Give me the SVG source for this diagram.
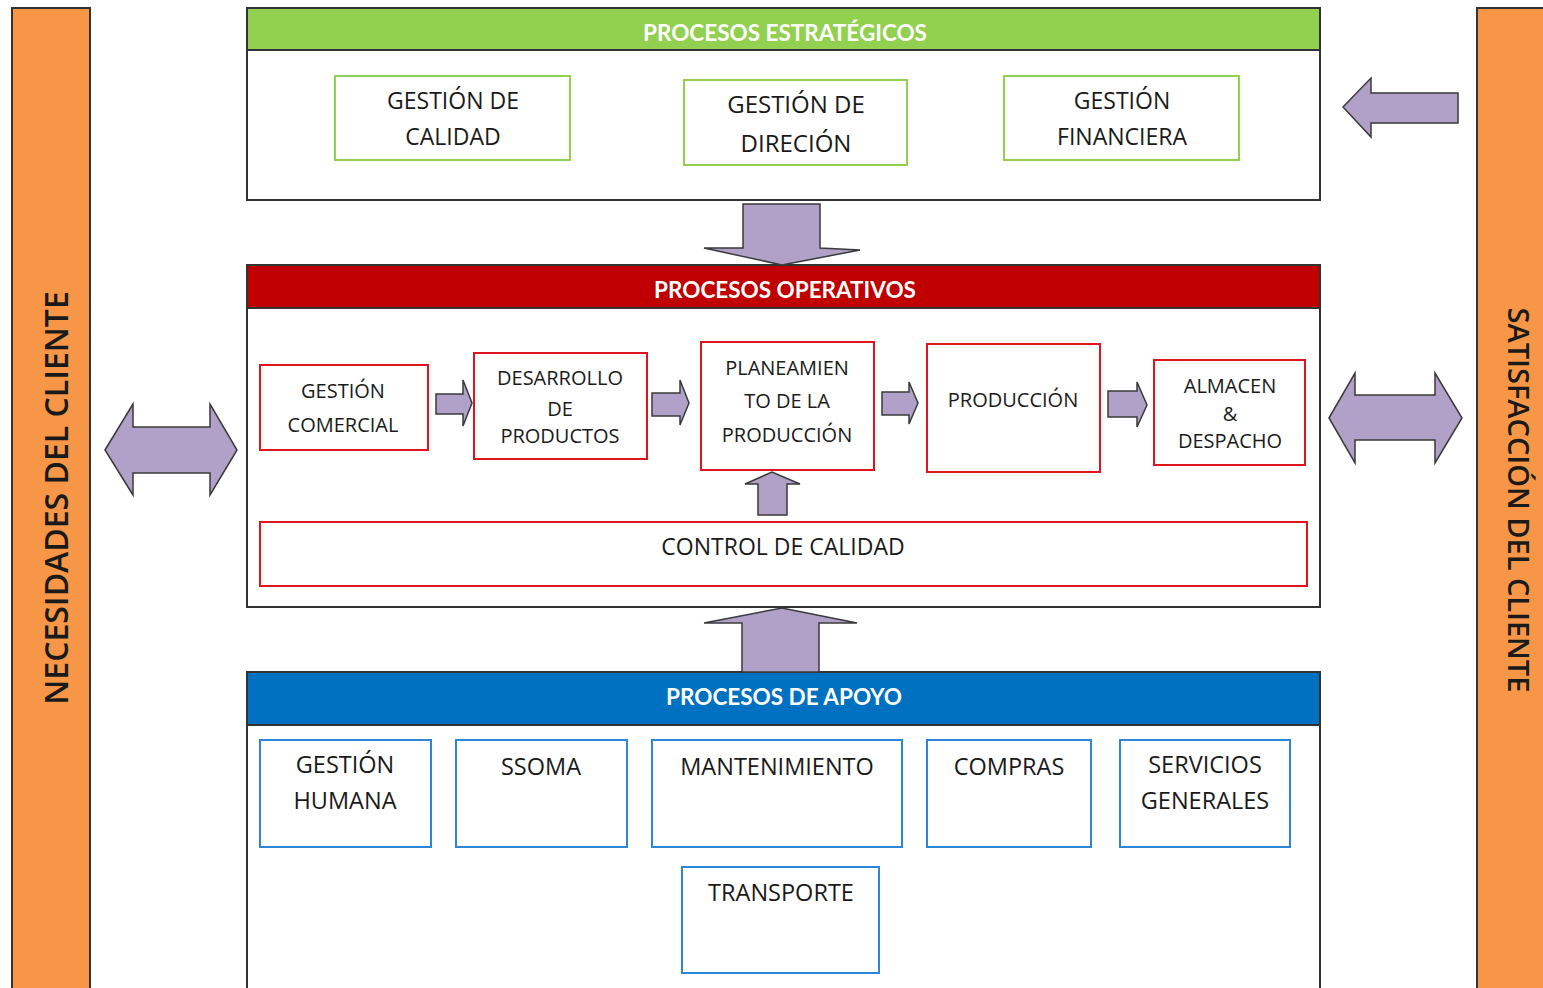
<svg xmlns="http://www.w3.org/2000/svg" width="1543" height="988" viewBox="0 0 1543 988">
  <style>
    .side { fill: #F79646; stroke: #333; stroke-width: 2; }
    .frame { fill: #fff; stroke: #333; stroke-width: 2; }
    .hdr { stroke: #333; stroke-width: 2; }
    .htxt { font-family: Lato, "Open Sans", sans-serif; font-weight: bold; font-size: 22.5px; fill: #fff; text-anchor: middle; }
    .vtxt { font-family: "Open Sans", "Noto Sans", sans-serif; font-weight: 600; fill: #1a1a1a; text-anchor: middle; }
    .t { font-family: "Open Sans", Lato, sans-serif; font-size: 23px; fill: #1a1a1a; text-anchor: middle; }
    .t24 { font-size: 24px; }
    .ta { font-size: 23.5px; }
    .ts { font-family: "Open Sans", Lato, sans-serif; font-size: 20px; fill: #1a1a1a; text-anchor: middle; }
    .g { fill: #fff; stroke: #92D050; stroke-width: 2; }
    .r { fill: #fff; stroke: #E0141E; stroke-width: 2; }
    .b { fill: #fff; stroke: #2E86D8; stroke-width: 2; }
    .arr { fill: #B1A0C7; stroke: #3a3a3a; stroke-width: 1.5; stroke-linejoin: miter; }
  </style>

  <!-- side bars -->
  <g id="necesidades">
    <rect class="side" x="12" y="8" width="78" height="990"/>
    <text class="vtxt" style="font-size:32px" transform="translate(68,498) rotate(-90)">NECESIDADES DEL CLIENTE</text>
  </g>
  <g id="satisfaccion">
    <rect class="side" x="1477" y="8" width="80" height="990"/>
    <text class="vtxt" style="font-size:29px" transform="translate(1508,500) rotate(90)">SATISFACCIÓN DEL CLIENTE</text>
  </g>

  <!-- strategic processes -->
  <g id="estrategicos">
    <rect class="frame" x="247" y="8" width="1073" height="192"/>
    <rect class="hdr" x="247" y="8" width="1073" height="42" fill="#92D050"/>
    <text class="htxt" x="785" y="41">PROCESOS ESTRATÉGICOS</text>
  </g>
  <g id="gestion-calidad">
    <rect class="g" x="335" y="76" width="235" height="84"/>
    <text class="t" x="453" y="109">GESTIÓN DE</text>
    <text class="t" x="453" y="145">CALIDAD</text>
  </g>
  <g id="gestion-direccion">
    <rect class="g" x="684" y="80" width="223" height="85"/>
    <text class="t t24" x="796" y="113">GESTIÓN DE</text>
    <text class="t t24" x="796" y="152">DIRECIÓN</text>
  </g>
  <g id="gestion-financiera">
    <rect class="g" x="1004" y="76" width="235" height="84"/>
    <text class="t" x="1122" y="109">GESTIÓN</text>
    <text class="t" x="1122" y="145">FINANCIERA</text>
  </g>

  <!-- operative processes -->
  <g id="operativos">
    <rect class="frame" x="247" y="265" width="1073" height="342"/>
    <rect class="hdr" x="247" y="265" width="1073" height="43" fill="#C00000"/>
    <text class="htxt" x="785" y="298">PROCESOS OPERATIVOS</text>
  </g>
  <g id="gestion-comercial">
    <rect class="r" x="260" y="365" width="168" height="85"/>
    <text class="ts" x="343" y="398">GESTIÓN</text>
    <text class="ts" x="343" y="432">COMERCIAL</text>
  </g>
  <g id="desarrollo">
    <rect class="r" x="474" y="353" width="173" height="106"/>
    <text class="ts" x="560" y="385">DESARROLLO</text>
    <text class="ts" x="560" y="416">DE</text>
    <text class="ts" x="560" y="443">PRODUCTOS</text>
  </g>
  <g id="planeamiento">
    <rect class="r" x="701" y="342" width="173" height="128"/>
    <text class="ts" x="787" y="375">PLANEAMIEN</text>
    <text class="ts" x="787" y="408">TO DE LA</text>
    <text class="ts" x="787" y="442">PRODUCCIÓN</text>
  </g>
  <g id="produccion">
    <rect class="r" x="927" y="344" width="173" height="128"/>
    <text class="ts" x="1013" y="407">PRODUCCIÓN</text>
  </g>
  <g id="almacen">
    <rect class="r" x="1154" y="360" width="151" height="105"/>
    <text class="ts" x="1230" y="393">ALMACEN</text>
    <text class="ts" x="1230" y="421">&amp;</text>
    <text class="ts" x="1230" y="448">DESPACHO</text>
  </g>
  <g id="control-calidad">
    <rect class="r" x="260" y="522" width="1047" height="64"/>
    <text class="t" x="783" y="555">CONTROL DE CALIDAD</text>
  </g>

  <!-- support processes -->
  <g id="apoyo">
    <rect class="frame" x="247" y="672" width="1073" height="330"/>
    <rect class="hdr" x="247" y="672" width="1073" height="53" fill="#0070C0"/>
    <text class="htxt" x="784" y="705">PROCESOS DE APOYO</text>
  </g>
  <g id="gestion-humana">
    <rect class="b" x="260" y="740" width="171" height="107"/>
    <text class="t ta" x="345" y="773">GESTIÓN</text>
    <text class="t ta" x="345" y="809">HUMANA</text>
  </g>
  <g id="ssoma">
    <rect class="b" x="456" y="740" width="171" height="107"/>
    <text class="t ta" x="541" y="775">SSOMA</text>
  </g>
  <g id="mantenimiento">
    <rect class="b" x="652" y="740" width="250" height="107"/>
    <text class="t ta" x="777" y="775">MANTENIMIENTO</text>
  </g>
  <g id="compras">
    <rect class="b" x="927" y="740" width="164" height="107"/>
    <text class="t ta" x="1009" y="775">COMPRAS</text>
  </g>
  <g id="servicios">
    <rect class="b" x="1120" y="740" width="170" height="107"/>
    <text class="t ta" x="1205" y="773">SERVICIOS</text>
    <text class="t ta" x="1205" y="809">GENERALES</text>
  </g>
  <g id="transporte">
    <rect class="b" x="682" y="867" width="197" height="106"/>
    <text class="t ta" x="781" y="901">TRANSPORTE</text>
  </g>

  <!-- connectors -->
  <g id="connectors">
    <!-- strategic to operative -->
    <polygon class="arr" points="743,204 820,204 820,248 860,250 782,265 704,248 743,248"/>
    <!-- support to operative -->
    <polygon class="arr" points="742,672 742,623 704,623 782,608 857,623 819,623 819,672"/>
    <!-- feedback from client satisfaction -->
    <polygon class="arr" points="1343,107 1371,78 1371,93 1458,93 1458,123 1371,123 1371,137"/>
    <!-- client exchange arrows -->
    <polygon class="arr" points="105,450 133,404 133,427 210,427 210,404 237,450 210,495 210,473 133,473 133,495"/>
    <polygon class="arr" points="1329,418 1355,373 1355,395 1435,395 1435,373 1462,418 1435,463 1435,440 1355,440 1355,463"/>
    <!-- process flow -->
    <polygon class="arr" points="436,394 463,394 463,380 472,403 463,426 463,414 436,414"/>
    <polygon class="arr" points="652,393 680,393 680,380 689,403 680,425 680,416 652,416"/>
    <polygon class="arr" points="882,392 909,392 909,382 918,403 909,424 909,415 882,415"/>
    <polygon class="arr" points="1108,391 1137,391 1137,382 1147,405 1137,427 1137,417 1108,417"/>
    <!-- quality control to planning -->
    <polygon class="arr" points="758,515 758,484 745,484 772,472 800,484 787,484 787,515"/>
  </g>
</svg>
